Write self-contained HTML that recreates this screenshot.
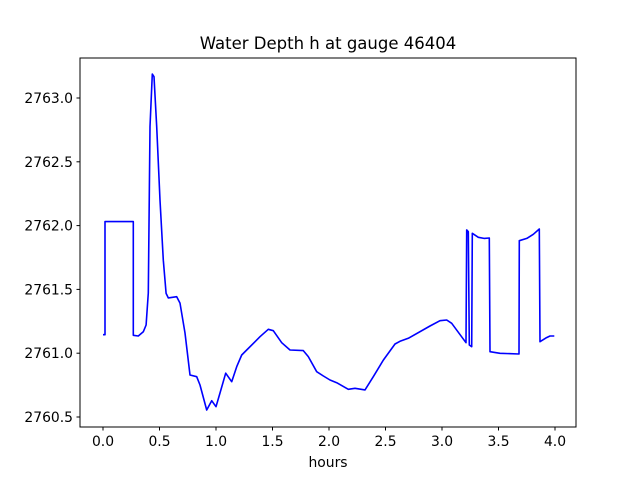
<!DOCTYPE html>
<html><head><meta charset="utf-8"><style>
body{margin:0;background:#fff}
svg text{font-family:"DejaVu Sans","Liberation Sans",sans-serif;fill:#000}
</style></head><body>
<svg id="chart" width="640" height="480" xmlns="http://www.w3.org/2000/svg">
<rect width="640" height="480" fill="#fff"/>
<text x="328" y="49" font-size="16.5" text-anchor="middle">Water Depth h at gauge 46404</text>
<g id="ticks"></g>
<path id="line" fill="none" stroke="#0000ff" stroke-width="1.6" stroke-linejoin="round"/>
<rect x="80" y="58" width="496" height="369" fill="none" stroke="#000" stroke-width="1"/>
<text x="328" y="467" font-size="13.9" text-anchor="middle">hours</text>
</svg>
<script>
const hours=[0.0,0.018,0.018,0.268,0.268,0.312,0.357,0.381,0.401,0.416,0.436,0.451,0.475,0.504,0.534,0.558,0.578,0.652,0.681,0.726,0.770,0.829,0.858,0.918,0.962,1.0,1.035,1.086,1.139,1.183,1.227,1.272,1.389,1.463,1.507,1.581,1.655,1.773,1.817,1.891,1.950,2.009,2.068,2.171,2.230,2.319,2.392,2.481,2.584,2.628,2.702,2.894,2.982,3.042,3.086,3.212,3.219,3.233,3.242,3.263,3.268,3.321,3.372,3.419,3.425,3.513,3.681,3.684,3.750,3.808,3.861,3.867,3.926,3.956,3.994];
const depth=[2761.145,2761.145,2762.031,2762.031,2761.140,2761.135,2761.168,2761.221,2761.472,2762.775,2763.188,2763.167,2762.775,2762.2,2761.730,2761.469,2761.433,2761.443,2761.393,2761.158,2760.829,2760.816,2760.751,2760.555,2760.628,2760.581,2760.688,2760.843,2760.777,2760.894,2760.986,2761.025,2761.129,2761.187,2761.176,2761.082,2761.025,2761.020,2760.973,2760.855,2760.821,2760.790,2760.769,2760.717,2760.725,2760.712,2760.816,2760.947,2761.072,2761.093,2761.117,2761.213,2761.255,2761.260,2761.234,2761.082,2761.966,2761.952,2761.064,2761.051,2761.940,2761.908,2761.900,2761.903,2761.012,2760.999,2760.994,2761.882,2761.900,2761.932,2761.973,2761.090,2761.122,2761.135,2761.135];
const xTicks=[0.0,0.5,1.0,1.5,2.0,2.5,3.0,3.5,4.0];
const yTicks=[2760.5,2761.0,2761.5,2762.0,2762.5,2763.0];
const xs=h=>103+(h-0)*113;
const ys=v=>98+(2763-v)*127.6;
let d='';
hours.forEach((h,i)=>{d+=(i?'L':'M')+xs(h).toFixed(1)+','+ys(depth[i]).toFixed(1);});
document.getElementById('line').setAttribute('d',d);
const g=document.getElementById('ticks');
const NS='http://www.w3.org/2000/svg';
xTicks.forEach(t=>{
 const l=document.createElementNS(NS,'line');
 
 
 l.setAttribute('x1',xs(t));l.setAttribute('x2',xs(t));l.setAttribute('y1',427);l.setAttribute('y2',430.5);l.setAttribute('stroke','#000');
 g.appendChild(l);
 const tx=document.createElementNS(NS,'text');
 
 
 tx.setAttribute('x',xs(t));tx.setAttribute('y',446);tx.setAttribute('font-size','13.9');tx.setAttribute('text-anchor','middle');
 tx.textContent=t.toFixed(1);g.appendChild(tx);
});
yTicks.forEach(t=>{
 const l=document.createElementNS(NS,'line');
 
 
 l.setAttribute('x1',76.5);l.setAttribute('x2',80);l.setAttribute('y1',ys(t));l.setAttribute('y2',ys(t));l.setAttribute('stroke','#000');
 g.appendChild(l);
 const tx=document.createElementNS(NS,'text');
 
 
 tx.setAttribute('x',73);tx.setAttribute('y',ys(t)+5);tx.setAttribute('font-size','13.9');tx.setAttribute('text-anchor','end');
 tx.textContent=t.toFixed(1);g.appendChild(tx);
});
</script>
</body></html>
